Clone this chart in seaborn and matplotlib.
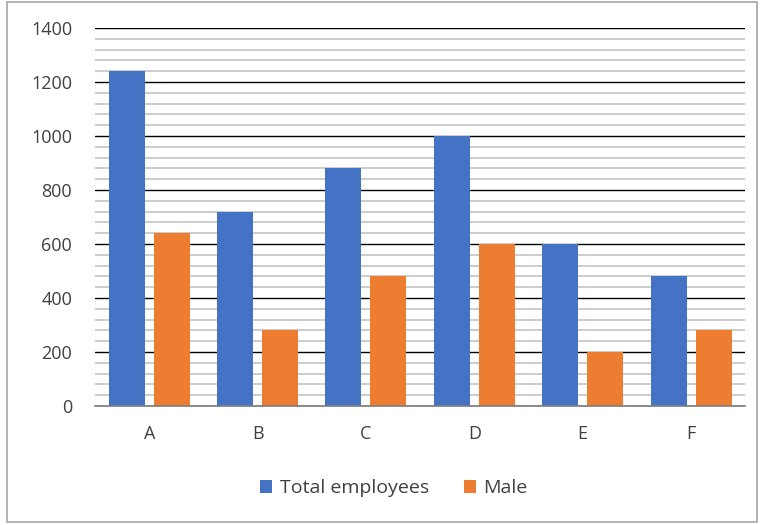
import pandas as pd
import matplotlib
matplotlib.use("Agg")
import matplotlib.pyplot as plt
import seaborn as sns
from matplotlib.ticker import MultipleLocator
from matplotlib.patches import Rectangle

sns.set_theme(style='white')
plt.rcParams['font.family'] = ['Open Sans', 'DejaVu Sans']

companies = ['A', 'B', 'C', 'D', 'E', 'F']
total_employees = [1240, 720, 880, 1000, 600, 480]
male = [640, 280, 480, 600, 200, 280]
series = ['Total employees', 'Male']

df = pd.DataFrame({'Company': companies, 'Total employees': total_employees, 'Male': male})
df = df.melt(id_vars='Company', var_name='Series', value_name='Count')

palette = {'Total employees': '#4472C4', 'Male': '#ED7D31'}

fig = plt.figure(figsize=(7.62, 5.25), dpi=100)
ax = fig.add_axes([0.1247, 0.2267, 0.8533, 0.72])
sns.barplot(data=df, x='Company', y='Count', hue='Series', hue_order=series,
            palette=palette, width=0.83, gap=0.2, saturation=1, linewidth=0, ax=ax)

ax.set_ylim(0, 1400)
ax.yaxis.set_major_locator(MultipleLocator(200))
ax.yaxis.set_minor_locator(MultipleLocator(40))
ax.grid(which='minor', axis='y', color='#BFBFBF', linewidth=1.1)
ax.grid(which='major', axis='y', color='#000000', linewidth=1.0)
ax.set_axisbelow(True)
for s in ['top', 'right', 'left']:
    ax.spines[s].set_visible(False)
ax.spines['bottom'].set_color('#7F7F7F')
ax.tick_params(axis='both', length=0, labelsize=13, colors='#404040')
ax.tick_params(axis='y', pad=16.5)
ax.tick_params(axis='x', pad=14)
ax.set_xlabel('')
ax.set_ylabel('')

ax.legend(loc='center', bbox_to_anchor=(0.517, 0.07), bbox_transform=fig.transFigure,
          ncol=2, frameon=False, fontsize=14, handlelength=0.6, handleheight=0.6,
          handletextpad=0.4, columnspacing=1.8, labelcolor='#404040', title=None)

fig.patches.append(Rectangle((0.009, 0.005), 0.985, 0.992, transform=fig.transFigure,
                             fill=False, edgecolor='#A6A6A6', linewidth=1.2))
plt.savefig("out.png", dpi=100)
